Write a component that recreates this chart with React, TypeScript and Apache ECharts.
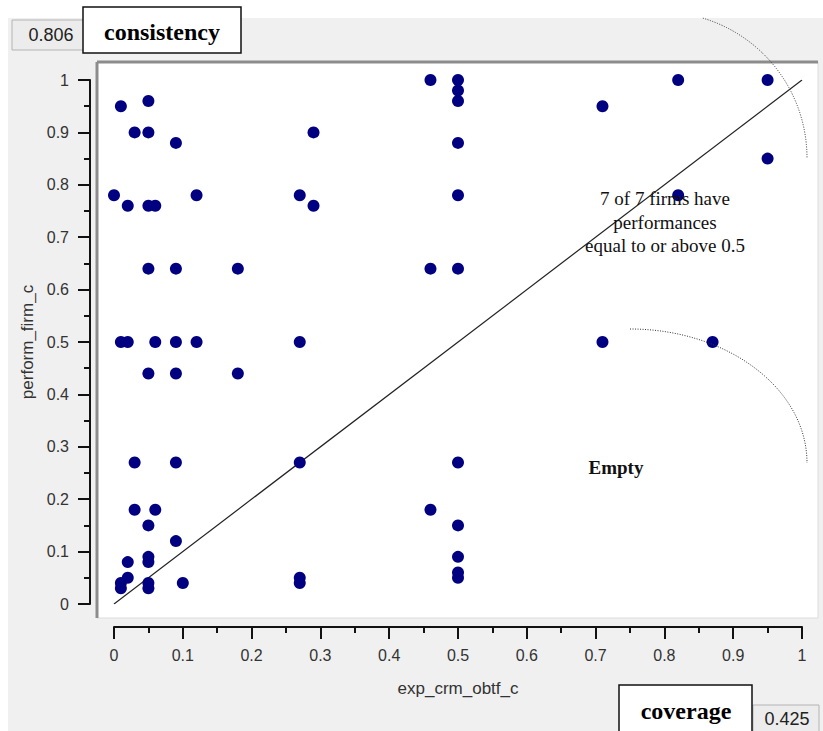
import React, { useEffect, useRef } from "react";
import * as echarts from "echarts";

// Coverage (x) columns and the consistency/performance values (y) in each column
const columnX = [0, 0.01, 0.02, 0.03, 0.05, 0.06, 0.09, 0.1, 0.12, 0.18, 0.27, 0.29, 0.46, 0.5, 0.71, 0.82, 0.87, 0.95];
const columnY = [
  [0.78],
  [0.95, 0.5, 0.04, 0.03],
  [0.76, 0.5, 0.08, 0.05],
  [0.9, 0.27, 0.18],
  [0.96, 0.9, 0.76, 0.64, 0.44, 0.15, 0.09, 0.08, 0.04, 0.03],
  [0.76, 0.5, 0.18],
  [0.88, 0.64, 0.5, 0.44, 0.27, 0.12],
  [0.04],
  [0.78, 0.5],
  [0.64, 0.44],
  [0.78, 0.5, 0.27, 0.05, 0.04],
  [0.9, 0.76],
  [1.0, 0.64, 0.18],
  [1.0, 0.98, 0.96, 0.88, 0.78, 0.64, 0.27, 0.15, 0.09, 0.06, 0.05],
  [0.95, 0.5],
  [1.0, 0.78],
  [0.5],
  [1.0, 0.85],
];
const diagonal = [[0, 0], [1, 1]];
const xTickLabels = ["0", "0.1", "0.2", "0.3", "0.4", "0.5", "0.6", "0.7", "0.8", "0.9", "1"];
const yTickLabels = ["0", "0.1", "0.2", "0.3", "0.4", "0.5", "0.6", "0.7", "0.8", "0.9", "1"];
const consistencyValue = "0.806";
const coverageValue = "0.425";
const noteLines = ["7 of 7 firms have", "performances", "equal to or above 0.5"];

const SANS = "'Liberation Sans', Arial, sans-serif";
const SERIF = "'Liberation Serif', 'Times New Roman', serif";

export default function App() {
  const ref = useRef<HTMLDivElement>(null);

  useEffect(() => {
    if (!ref.current) return;
    const chart = echarts.init(ref.current, undefined, { renderer: "svg" });
    const points: number[][] = [];
    columnX.forEach((x, i) => columnY[i].forEach((y) => points.push([x, y])));

    const tickFmt = (labels: string[]) => (v: number) => labels[Math.round(v * 10)] ?? "";

    const axisCommon = {
      type: "value" as const,
      min: 0,
      max: 1,
      interval: 0.1,
      axisLine: { show: true, onZero: false, lineStyle: { color: "#111", width: 2 } },
      axisTick: { show: true, length: 12, lineStyle: { color: "#111", width: 2 } },
      minorTick: { show: true, splitNumber: 2, length: 6, lineStyle: { color: "#111", width: 2 } },
      splitLine: { show: false },
      minorSplitLine: { show: false },
      nameLocation: "middle" as const,
      nameTextStyle: { fontSize: 17, color: "#333", fontFamily: SANS },
    };

    chart.setOption({
      animation: false,
      backgroundColor: "#ffffff",
      grid: { left: 114, right: 21, top: 80, bottom: 127 },
      xAxis: {
        ...axisCommon,
        position: "bottom",
        offset: 23,
        name: "exp_crm_obtf_c",
        nameGap: 53,
        axisLabel: { margin: 20, fontSize: 16, color: "#333", fontFamily: SANS, formatter: tickFmt(xTickLabels) },
      },
      yAxis: {
        ...axisCommon,
        position: "left",
        offset: 24,
        name: "perform_firm_c",
        nameGap: 52,
        axisLabel: { margin: 21, fontSize: 16, color: "#333", fontFamily: SANS, formatter: tickFmt(yTickLabels) },
      },
      series: [
        {
          type: "line",
          data: diagonal,
          symbol: "none",
          lineStyle: { color: "#222", width: 1.2 },
          z: 3,
          silent: true,
        },
        {
          type: "scatter",
          data: points,
          symbol: "circle",
          symbolSize: 12,
          itemStyle: { color: "#000080", opacity: 1 },
          z: 4,
        },
      ],
      graphic: [
        // grey panel
        { type: "rect", z: -100, shape: { x: 8, y: 18, width: 815, height: 713 }, style: { fill: "#f0f0f0" } },
        // plot box
        { type: "rect", z: -90, shape: { x: 97, y: 62, width: 721, height: 556 }, style: { fill: "#ffffff", stroke: "#dcdcdc", lineWidth: 1 } },
        { type: "line", z: -80, shape: { x1: 97, y1: 62, x2: 818, y2: 62 }, style: { stroke: "#8c8c8c", lineWidth: 3 } },
        { type: "line", z: -80, shape: { x1: 97, y1: 62, x2: 97, y2: 618 }, style: { stroke: "#8c8c8c", lineWidth: 3 } },
        // dotted arcs
        {
          type: "arc",
          z: 5,
          shape: { cx: 661, cy: 158, r: 146, startAngle: -1.28, endAngle: 0, clockwise: true },
          style: { stroke: "#333", lineWidth: 1, lineDash: [1, 1.5], fill: null },
        },
        {
          type: "bezierCurve",
          z: 5,
          shape: { x1: 630, y1: 329, cpx1: 727.8, cpy1: 329, cpx2: 807, cpy2: 389, x2: 807, y2: 463 },
          style: { stroke: "#333", lineWidth: 1, lineDash: [1, 1.5], fill: null },
        },
        // annotations
        {
          type: "text",
          z: 6,
          x: 665,
          y: 187,
          style: {
            text: noteLines.join("\n"),
            fill: "#111",
            font: `19px ${SERIF}`,
            textAlign: "center",
            textVerticalAlign: "top",
            lineHeight: 23.5,
          },
        },
        {
          type: "text",
          z: 6,
          x: 616,
          y: 467,
          style: { text: "Empty", fill: "#111", font: `bold 19px ${SERIF}`, textAlign: "center", textVerticalAlign: "middle" },
        },
        // consistency value box
        { type: "rect", z: 50, shape: { x: 12, y: 20, width: 72, height: 30 }, style: { fill: "#ececec", stroke: "#b4b4b4", lineWidth: 1 } },
        {
          type: "text",
          z: 51,
          x: 51,
          y: 35,
          style: { text: consistencyValue, fill: "#222", font: `18px ${SANS}`, textAlign: "center", textVerticalAlign: "middle" },
        },
        { type: "rect", z: 52, shape: { x: 83, y: 7, width: 158, height: 46 }, style: { fill: "#ffffff", stroke: "#111", lineWidth: 1.5 } },
        {
          type: "text",
          z: 53,
          x: 162,
          y: 32,
          style: { text: "consistency", fill: "#000", font: `bold 24px ${SERIF}`, textAlign: "center", textVerticalAlign: "middle" },
        },
        // coverage boxes
        { type: "rect", z: 52, shape: { x: 619, y: 685, width: 133, height: 52 }, style: { fill: "#ffffff", stroke: "#111", lineWidth: 1.5 } },
        {
          type: "text",
          z: 53,
          x: 686,
          y: 711,
          style: { text: "coverage", fill: "#000", font: `bold 24px ${SERIF}`, textAlign: "center", textVerticalAlign: "middle" },
        },
        { type: "rect", z: 50, shape: { x: 753, y: 705, width: 66, height: 30 }, style: { fill: "#ececec", stroke: "#b4b4b4", lineWidth: 1 } },
        {
          type: "text",
          z: 51,
          x: 787,
          y: 719,
          style: { text: coverageValue, fill: "#222", font: `18px ${SANS}`, textAlign: "center", textVerticalAlign: "middle" },
        },
      ],
    });

    return () => chart.dispose();
  }, []);

  return <div ref={ref} style={{ position: "absolute", left: 0, top: 0, width: 823, height: 731 }} />;
}
